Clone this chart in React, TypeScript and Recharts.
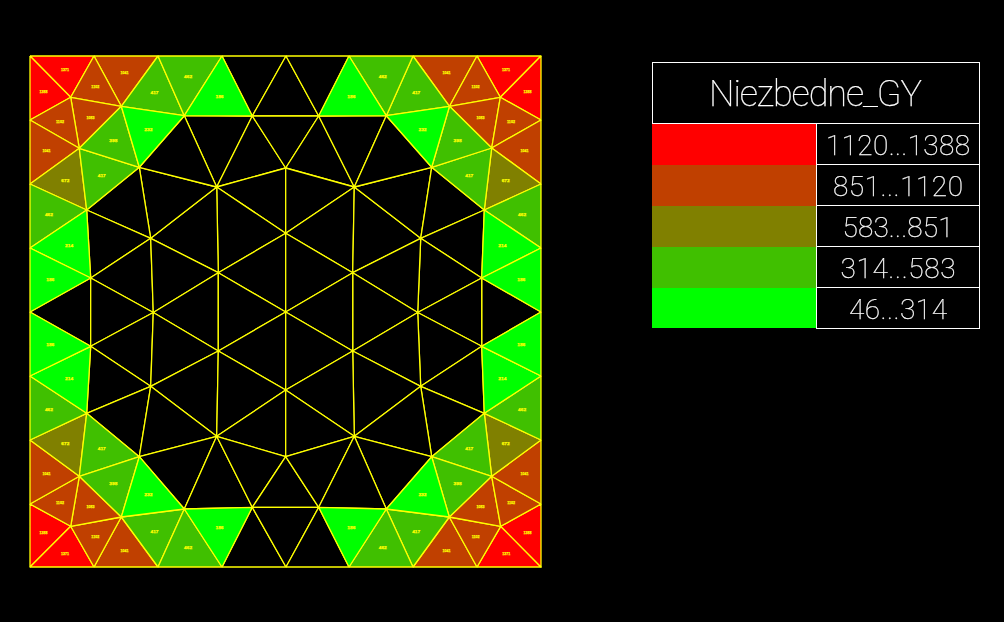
import { ScatterChart, Scatter, XAxis, YAxis } from "recharts"

// band order: highest first, same as the legend table
const legendTitle = "Niezbedne_GY"
const bandColors = ["#ff0000", "#c04000", "#808000", "#40c000", "#00ff00"]
const bandLabels = ["1120...1388", "851...1120", "583...851", "314...583", "46...314"]
const bandLabelWidths = [144, 130, 111, 115, 98]

const nodeIds = [
    "t0", "t1", "t2", "t3", "t4", "t5", "t6", "t7", "t8",
    "r1", "r2", "r3", "r4", "r5", "r6", "r7",
    "b0", "b1", "b2", "b3", "b4", "b5", "b6", "b7", "b8",
    "l1", "l2", "l3", "l4", "l5", "l6", "l7",
    "A1", "B1", "C1", "D1", "E1", "F1", "G1", "I1", "J1", "K1", "M1",
    "A2", "B2", "C2", "D2", "E2", "F2", "G2", "I2", "J2", "K2", "M2",
    "A3", "B3", "C3", "D3", "E3", "F3", "G3", "I3", "J3", "K3", "M3",
    "A4", "B4", "C4", "D4", "E4", "F4", "G4", "I4", "J4", "K4", "M4",
    "H1", "H2", "P1", "P2", "N1", "N2", "O",
]
const nodeX = [
    0, 64, 128, 192, 256, 319, 383, 447, 511,
    511, 511, 511, 511, 511, 511, 511,
    0, 64, 128, 192, 256, 319, 383, 447, 511,
    0, 0, 0, 0, 0, 0, 0,
    40.7, 91.3, 154.3, 222.3, 49.3, 109.3, 186.7, 56.7, 120.7, 188.3, 60.7,
    470.3, 419.5, 356.3, 288.7, 461.7, 401.7, 324.3, 454.3, 390.7, 322.7, 451.7,
    40.7, 91.3, 154.3, 222.3, 49.3, 109.3, 186.7, 56.7, 120.7, 188.3, 60.7,
    470.7, 419.3, 356.3, 288.7, 461.7, 401.7, 324.3, 454.3, 390.7, 322.7, 451.7,
    255.7, 255.7, 255.7, 255.7, 123.3, 387.7, 255.7,
]
const nodeY = [
    511, 511, 511, 511, 511, 511, 511, 511, 511,
    447, 383, 319, 255, 191, 127, 63,
    0, 0, 0, 0, 0, 0, 0, 0, 0,
    447, 383, 319, 255, 191, 127, 63,
    469.7, 460.7, 451.3, 451, 418.7, 399.7, 380, 357, 328.7, 294.3, 289,
    469.7, 460.7, 451.3, 451, 419, 399.7, 380, 357, 328.7, 294.3, 289,
    40.7, 50, 58, 59.7, 90.7, 110.3, 130.7, 153.7, 180.7, 216, 220.7,
    40.7, 50, 58, 59.7, 90.7, 110.3, 130.7, 153.7, 180.7, 216, 220.7,
    399, 110.3, 333.7, 177, 254.5, 254.5, 255,
]

// elements without a result, only the mesh lines show
const emptyTris = [
    "t3 t4 D1", "t4 D1 D2", "t4 t5 D2",
    "C1 D1 G1", "D1 H1 G1", "D1 D2 H1", "D2 H1 G2", "D2 C2 G2",
    "G1 H1 P1", "H1 G2 P1", "G1 P1 K1", "G2 P1 K2", "K1 P1 O", "K2 P1 O",
    "G1 K1 J1", "G1 J1 F1", "G1 F1 C1", "F1 J1 I1",
    "G2 K2 J2", "G2 J2 F2", "G2 F2 C2", "F2 J2 I2",
    "J1 I1 M1", "J1 M1 N1", "J1 N1 K1", "K1 N1 K3", "K1 K3 O",
    "J2 I2 M2", "J2 M2 N2", "J2 N2 K2", "K2 N2 K4", "K2 K4 O",
    "l4 M1 M3", "N1 M1 M3", "r4 M2 M4", "N2 M2 M4",
    "K3 O P2", "K4 O P2",
    "N1 M3 J3", "N1 J3 K3", "N2 M4 J4", "N2 J4 K4",
    "J3 M3 I3", "J4 M4 I4", "F3 J3 I3", "F4 J4 I4",
    "G3 K3 J3", "G3 J3 F3", "G3 F3 C3", "G4 K4 J4", "G4 J4 F4", "G4 F4 C4",
    "G3 K3 P2", "G4 K4 P2", "G3 P2 H2", "G4 P2 H2",
    "C3 D3 G3", "D3 H2 G3", "D3 D4 H2", "D4 H2 G4", "D4 C4 G4",
    "b3 b4 D3", "b4 D3 D4", "b4 b5 D4",
]

const redTris = [
    "t0 t1 A1", "t0 A1 l1", "t7 t8 A2", "t8 A2 r1",
    "l7 A3 b0", "b0 A3 b1", "b7 A4 b8", "r7 A4 b8",
]
const brownTris = [
    "t1 t2 B1", "t1 B1 A1", "A1 B1 E1", "l1 A1 E1", "l1 E1 l2",
    "t6 t7 B2", "t7 A2 B2", "A2 B2 E2", "r1 A2 E2", "r1 E2 r2",
    "b1 b2 B3", "b1 A3 B3", "A3 B3 E3", "l7 A3 E3", "l6 l7 E3",
    "b6 b7 B4", "b7 A4 B4", "A4 B4 E4", "r7 A4 E4", "r6 r7 E4",
]
const oliveTris = ["l2 E1 I1", "r2 E2 I2", "l6 E3 I3", "r6 E4 I4"]
const greenTris = [
    "l2 I1 l3", "E1 I1 F1", "E1 F1 B1", "t2 B1 C1", "t2 t3 C1",
    "r2 I2 r3", "E2 I2 F2", "E2 F2 B2", "t6 B2 C2", "t5 t6 C2",
    "l5 l6 I3", "E3 I3 F3", "E3 F3 B3", "b2 B3 C3", "b2 b3 C3",
    "r5 r6 I4", "E4 I4 F4", "E4 F4 B4", "b6 B4 C4", "b5 b6 C4",
]
const limeTris = [
    "l3 I1 M1", "l3 M1 l4", "B1 F1 C1", "t3 C1 D1",
    "r3 I2 M2", "r3 M2 r4", "B2 F2 C2", "t5 C2 D2",
    "l5 I3 M3", "l4 l5 M3", "B3 F3 C3", "b3 C3 D3",
    "r5 I4 M4", "r4 r5 M4", "B4 F4 C4", "b5 C4 D4",
]

// element values, too small in the source to read, estimated from the band
const redValues = [1371, 1388, 1371, 1388, 1388, 1371, 1371, 1388]
const brownValues = [
    1041, 1102, 1083, 1102, 1041, 1041, 1102, 1083, 1102, 1041,
    1041, 1102, 1083, 1102, 1041, 1041, 1102, 1083, 1102, 1041,
]
const oliveValues = [672, 672, 672, 672]
const greenValues = [
    462, 417, 398, 417, 462, 462, 417, 398, 417, 462,
    462, 417, 398, 417, 462, 462, 417, 398, 417, 462,
]
const limeValues = [
    214, 186, 232, 186, 214, 186, 232, 186,
    214, 186, 232, 186, 214, 186, 232, 186,
]

const bandTris = [redTris, brownTris, oliveTris, greenTris, limeTris]
const bandValues = [redValues, brownValues, oliveValues, greenValues, limeValues]

const MESH = "#ffff00"

function corners(tri: string) {
    return tri.split(" ").map(id => {
        const i = nodeIds.indexOf(id)
        return { x: nodeX[i], y: nodeY[i] }
    })
}

function centroid(tri: string, value: number) {
    const pts = corners(tri)
    return {
        x: (pts[0].x + pts[1].x + pts[2].x) / 3,
        y: (pts[0].y + pts[1].y + pts[2].y) / 3,
        value,
    }
}

const labelPoints = bandTris.flatMap((tris, b) => tris.map((t, i) => centroid(t, bandValues[b][i])))

const NoDot = () => <g />

const ValueLabel = (props: any) => (
    <text
        x={props.cx}
        y={props.cy}
        dy={1.6}
        textAnchor="middle"
        fontFamily="Liberation Sans"
        fontWeight="bold"
        fontSize={4.4}
        fill={MESH}
        stroke={MESH}
        strokeWidth={0.25}
        textLength={8}
        lengthAdjust="spacingAndGlyphs"
    >
        {props.payload.value}
    </text>
)

function triSeries(tri: string, fill: string) {
    const pts = corners(tri)
    return (
        <Scatter
            key={tri}
            data={[...pts, pts[0]]}
            isAnimationActive={false}
            legendType="none"
            shape={NoDot}
            line={{ stroke: MESH, strokeWidth: 1.3, strokeLinejoin: "round", fill }}
        />
    )
}

function LegendTable() {
    const font = { fontFamily: "Roboto", fontWeight: 100, fill: "#ffffff", stroke: "#ffffff", strokeWidth: 0.25 }
    return (
        <svg width={1004} height={622} style={{ position: "absolute", left: 0, top: 0, willChange: "transform" }}>
            <rect x={652.5} y={62.5} width={327} height={61} fill="none" stroke="#fff" />
            <text {...font} x={709} y={106} fontSize={36} textLength={213}>{legendTitle}</text>
            {bandLabels.map((label, i) => (
                <g key={label}>
                    <rect x={652} y={124 + i * 41} width={164} height={i === 4 ? 40 : 41} fill={bandColors[i]} />
                    <rect x={816.5} y={123.5 + i * 41} width={163} height={41} fill="none" stroke="#fff" />
                    <text
                        {...font}
                        x={898}
                        y={155 + i * 41}
                        fontSize={28}
                        textAnchor="middle"
                        textLength={bandLabelWidths[i]}
                    >
                        {label}
                    </text>
                </g>
            ))}
        </svg>
    )
}

export default function App() {
    return (
        <div style={{ position: "absolute", left: 0, top: 0, width: 1004, height: 622, background: "#000" }}>
            <ScatterChart
                width={1004}
                height={622}
                margin={{ top: 56, left: 30, right: 463, bottom: 55 }}
            >
                <XAxis type="number" dataKey="x" domain={[0, 511]} hide />
                <YAxis type="number" dataKey="y" domain={[0, 511]} hide />
                {emptyTris.map(t => triSeries(t, "#000000"))}
                {bandTris.flatMap((tris, b) => tris.map(t => triSeries(t, bandColors[b])))}
                <Scatter data={labelPoints} isAnimationActive={false} legendType="none" shape={ValueLabel} />
            </ScatterChart>
            <LegendTable />
        </div>
    )
}
